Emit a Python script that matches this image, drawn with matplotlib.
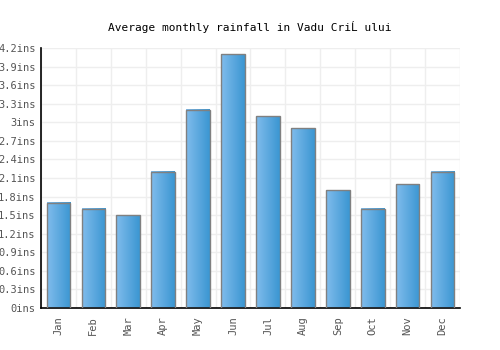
import matplotlib
matplotlib.use("Agg")
import matplotlib.pyplot as plt
import numpy as np
from matplotlib.colors import LinearSegmentedColormap

# monthly rainfall, inches
months = ["Jan", "Feb", "Mar", "Apr", "May", "Jun", "Jul", "Aug", "Sep", "Oct", "Nov", "Dec"]
rain = [1.7, 1.6, 1.5, 2.2, 3.2, 4.1, 3.1, 2.9, 1.9, 1.6, 2.0, 2.2]
yticks = [0, 0.3, 0.6, 0.9, 1.2, 1.5, 1.8, 2.1, 2.4, 2.7, 3, 3.3, 3.6, 3.9, 4.2]

plt.rcParams['font.family'] = ['DejaVu Sans Mono']

fig = plt.figure(figsize=(5, 3.5), dpi=100)
ax = fig.add_axes([0.082, 0.12, 0.838, 0.743])

x = np.arange(len(months))
w = 0.68
cmap = LinearSegmentedColormap.from_list("bl", ["#80bcec", "#3b96d2"])
grad = np.linspace(0, 1, 64).reshape(1, -1)

bars = ax.bar(x, rain, width=w, color="none", edgecolor="#808080", linewidth=1, zorder=3)
for b in bars:
    x0, y0 = b.get_x(), b.get_y()
    ax.imshow(grad, cmap=cmap, aspect="auto", zorder=2,
              extent=[x0, x0 + b.get_width(), y0, y0 + b.get_height()])

ax.set_xlim(-0.5, len(months) - 0.5)
ax.set_ylim(0, 4.2)
ax.set_xticks(x)
ax.set_xticklabels(months, rotation=90, color="#555555", fontsize=7.5)
ax.set_yticks(yticks)
ax.set_yticklabels(["%gins" % v for v in yticks], color="#555555", fontsize=7.5)
ax.set_xticks(np.arange(-0.5, len(months), 1), minor=True)
ax.tick_params(axis="x", which="both", length=0, pad=6)
ax.tick_params(axis="y", length=0, pad=4)
ax.grid(True, axis="y", color="#eeeeee", linewidth=1, zorder=0)
ax.grid(True, axis="x", which="minor", color="#eeeeee", linewidth=1, zorder=0)
ax.set_axisbelow(True)

for s in ["top", "right"]:
    ax.spines[s].set_visible(False)
ax.spines["left"].set_linewidth(1.2)
ax.spines["bottom"].set_linewidth(1.2)

fig.suptitle("Average monthly rainfall in Vadu CriĹ ului", y=0.94, fontsize=8)

fig.savefig("out.png", dpi=100)
